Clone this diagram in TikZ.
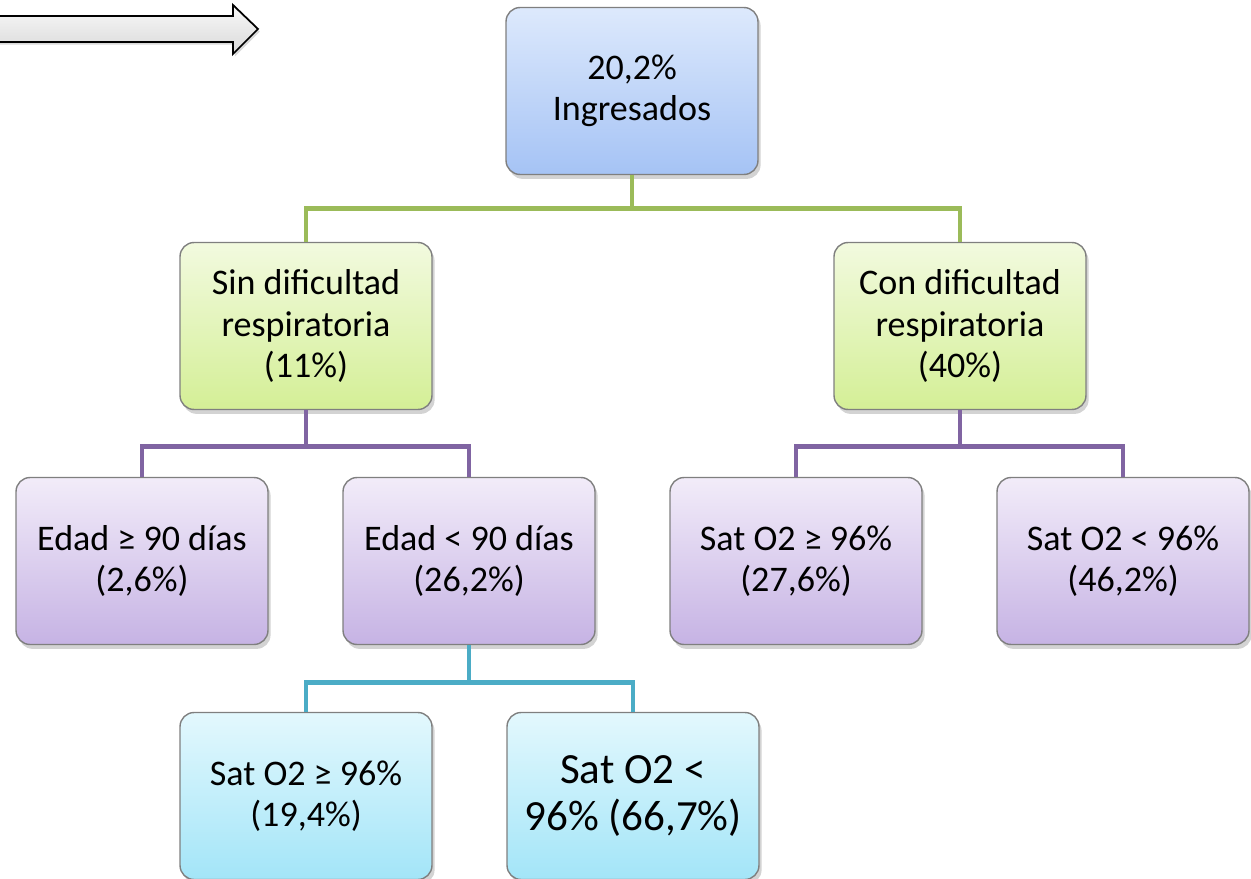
\documentclass[tikz,border=0pt]{standalone}
\usepackage{fontspec}
\setmainfont{Carlito}
\usetikzlibrary{shadows}
\definecolor{azulA}{HTML}{DDE9FC}
\definecolor{azulB}{HTML}{A5C3F5}
\definecolor{verdeA}{HTML}{F2FADF}
\definecolor{verdeB}{HTML}{D4EF96}
\definecolor{lilaA}{HTML}{F2ECF9}
\definecolor{lilaB}{HTML}{C6B3E4}
\definecolor{celesteA}{HTML}{E3F8FD}
\definecolor{celesteB}{HTML}{A3E5F8}
\definecolor{borde}{HTML}{7F7F7F}
\definecolor{lverde}{HTML}{9BBB59}
\definecolor{llila}{HTML}{8064A2}
\definecolor{lceleste}{HTML}{4BACC6}

\begin{document}
\begin{tikzpicture}[x=0.02cm,y=-0.02cm,
	caja/.style={draw=borde, line width=0.8pt, rounded corners=8pt, minimum width=5.04cm, minimum height=3.34cm, inner sep=2pt, align=center, font=\fontsize{20.5}{23.5}\selectfont, drop shadow={shadow xshift=1.5pt, shadow yshift=-2.5pt, opacity=0.35}},
	azul/.style={top color=azulA, bottom color=azulB},
	verde/.style={top color=verdeA, bottom color=verdeB},
	lila/.style={top color=lilaA, bottom color=lilaB},
	celeste/.style={top color=celesteA, bottom color=celesteB},
	rama/.style={line width=2.8pt}]
		\useasboundingbox (0,0) rectangle (1251,879);
		
		\draw[draw=black, line width=1pt, top color=gray!5, bottom color=gray!30, drop shadow={shadow xshift=1pt, shadow yshift=-1.5pt, opacity=0.3}]
		(-5,16) -- (233,16) -- (233,5) -- (258,29) -- (233,54) -- (233,42) -- (-5,42) -- cycle;
		
		\node (A)[caja,azul] at (632,91) {20,2\%\\Ingresados};
		\node (B)[caja,verde] at (306,326) {Sin dificultad\\respiratoria\\(11\%)};
		\node (C)[caja,verde] at (960,326) {Con dificultad\\respiratoria\\(40\%)};
		\node (D)[caja,lila] at (142,561) {Edad ≥ 90 días\\(2,6\%)};
		\node (E)[caja,lila] at (469,561) {Edad < 90 días\\(26,2\%)};
		\node (F)[caja,lila] at (796,561) {Sat O2 ≥ 96\%\\(27,6\%)};
		\node (G)[caja,lila] at (1123,561) {Sat O2 < 96\%\\(46,2\%)};
		\node (H)[caja,celeste] at (306,796) {Sat O2 ≥ 96\%\\(19,4\%)};
		\node (I)[caja,celeste,font=\fontsize{24.5}{27}\selectfont] at (633,796) {Sat O2 <\\96\% (66,7\%)};
		
		\draw[rama, lverde] (A.south) -- ++(0,33) -| (B.north);
		\draw[rama, lverde] (A.south) -- ++(0,33) -| (C.north);
		\draw[rama, llila] (B.south) -- ++(0,36) -| (D.north);
		\draw[rama, llila] (B.south) -- ++(0,36) -| (E.north);
		\draw[rama, llila] (C.south) -- ++(0,36) -| (F.north);
		\draw[rama, llila] (C.south) -- ++(0,36) -| (G.north);
		\draw[rama, lceleste] (E.south) -- ++(0,37) -| (H.north);
		\draw[rama, lceleste] (E.south) -- ++(0,37) -| (I.north);
	\end{tikzpicture}
\end{document}
